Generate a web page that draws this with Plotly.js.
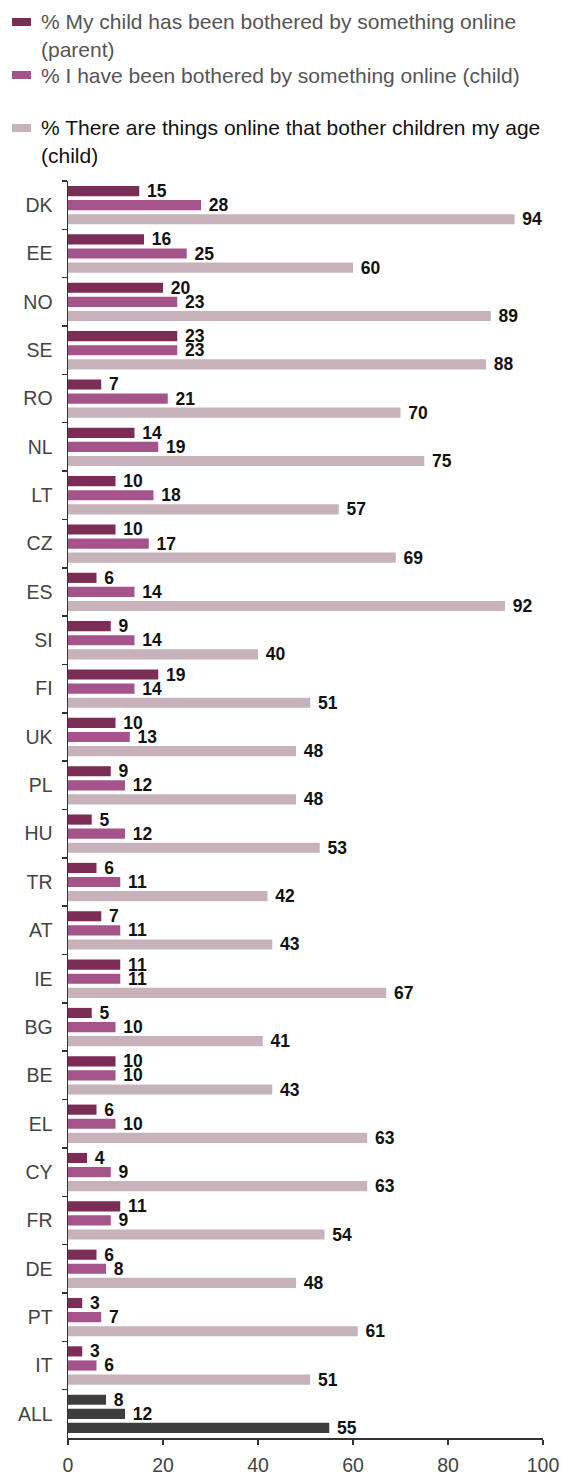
<!DOCTYPE html>
<html><head><meta charset="utf-8">
<script src="https://cdn.plot.ly/plotly-3.0.1.min.js"></script>
<style>html,body{margin:0;padding:0;background:#fff}#chart{width:562px;height:1475px}</style>
</head><body><div id="chart"></div>
<script>
var countries = ["DK","EE","NO","SE","RO","NL","LT","CZ","ES","SI","FI","UK","PL","HU","TR","AT","IE","BG","BE","EL","CY","FR","DE","PT","IT","ALL"];
var parentBothered = [15,16,20,23,7,14,10,10,6,9,19,10,9,5,6,7,11,5,10,6,4,11,6,3,3,8];
var childBothered = [28,25,23,23,21,19,18,17,14,14,14,13,12,12,11,11,11,10,10,10,9,9,8,7,6,12];
var thingsOnline = [94,60,89,88,70,75,57,69,92,40,51,48,48,53,42,43,67,41,43,63,63,54,48,61,51,55];
var legendLines = [
  ["% My child has been bothered by something online", "(parent)"],
  ["% I have been bothered by something online (child)"],
  ["% There are things online that bother children my age", "(child)"]
];
var xTicks = [0,20,40,60,80,100];

var seriesColors = ["#7b2d56","#a4548a","#c7b2bb"];
var allColor = "#3d3d3d";
function colorsFor(c){ return countries.map(function(k){ return k==="ALL" ? allColor : c; }); }

var W=562, H=1475, M={l:68, r:19, t:181, b:37};
var PW=W-M.l-M.r, PH=H-M.t-M.b;
function px2x(px){ return (px-M.l)/PW; }
function px2y(py){ return (H-M.b-py)/PH; }

var dataSets = [parentBothered, childBothered, thingsOnline];
var traces = dataSets.map(function(vals,i){
  return {
    type:"bar", orientation:"h", y:countries, x:vals, name:legendLines[i].join(" "),
    marker:{color:colorsFor(seriesColors[i]), line:{width:0}},
    texttemplate:"\u00a0%{x}", textposition:"outside", cliponaxis:false, constraintext:"none",
    textfont:{family:"Liberation Sans, Arial, sans-serif", size:17.5, color:"#111", weight:"bold"},
    hoverinfo:"none", showlegend:false
  };
});

var legFont = "Liberation Sans, Arial, sans-serif";
var legendRows = [[22,50],[75],[128,155]];
var legendColors = ["#555","#555","#111"];
var shapes=[], annotations=[];
legendRows.forEach(function(rows,i){
  shapes.push({type:"rect", xref:"paper", yref:"paper", x0:px2x(12), x1:px2x(31),
               y0:px2y(rows[0]+4), y1:px2y(rows[0]-4), line:{width:0}, fillcolor:seriesColors[i]});
  rows.forEach(function(py,j){
    annotations.push({xref:"paper", yref:"paper", x:px2x(39), y:px2y(py), xanchor:"left", yanchor:"middle",
      showarrow:false, text:legendLines[i][j], font:{family:legFont, size:21, color:legendColors[i]}});
  });
});

var layout = {
  width:W, height:H, margin:M,
  paper_bgcolor:"#fff", plot_bgcolor:"#fff",
  barmode:"group", bargap:0.125, bargroupgap:0.28,
  showlegend:false,
  xaxis:{range:[0,100], tickvals:xTicks, ticktext:xTicks.map(String), showgrid:false, zeroline:false,
         showline:true, linecolor:"#333", linewidth:1.5, ticks:"outside", ticklen:5, tickcolor:"#333", tickwidth:1.5,
         tickfont:{family:legFont, size:19.5, color:"#444"}, ticklabelstandoff:4},
  yaxis:{type:"category", autorange:"reversed", showgrid:false, zeroline:false, showline:true,
         linecolor:"#333", linewidth:1.5, ticks:"outside", ticklen:5, tickcolor:"#333", tickwidth:1.5, tickson:"boundaries",
         tickfont:{family:legFont, size:19.5, color:"#444"}, ticklabelstandoff:10},
  shapes:shapes, annotations:annotations
};
Plotly.newPlot("chart", traces, layout, {displayModeBar:false, staticPlot:true});
</script></body></html>
